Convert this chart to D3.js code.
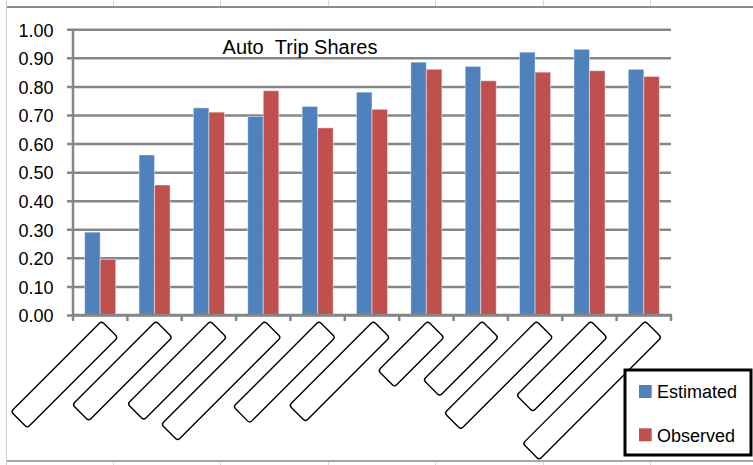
<!DOCTYPE html>
<html>
<head>
<meta charset="utf-8">
<script src="https://cdn.jsdelivr.net/npm/d3@7"></script>
<style>
  html, body { margin: 0; padding: 0; background: #ffffff; }
  svg { display: block; }
  text { font-family: "Liberation Sans", Arial, sans-serif; fill: #000; }
</style>
</head>
<body>
<svg id="chart" width="753" height="465"></svg>
<script>
// Category slots along the x axis (their label boxes are blank)
const categories = [1, 2, 3, 4, 5, 6, 7, 8, 9, 10, 11];
const seriesNames = ["Estimated", "Observed"];
const estimated = [0.29, 0.56, 0.725, 0.695, 0.73, 0.78, 0.885, 0.87, 0.92, 0.93, 0.86];
const observed  = [0.195, 0.455, 0.71, 0.785, 0.655, 0.72, 0.86, 0.82, 0.85, 0.855, 0.835];
const yTicks = [0, 0.1, 0.2, 0.3, 0.4, 0.5, 0.6, 0.7, 0.8, 0.9, 1.0];
const titleText = "Auto\u00a0\u00a0Trip Shares";

// lengths of the blank, rotated label boxes under each category
const labelBoxLengths = [128, 118, 117, 146, 121, 119, 70, 83, 130, 105, 173];

const colors = { Estimated: "#4F81BD", Observed: "#C0504D" };
const seriesValues = { Estimated: estimated, Observed: observed };

const svg = d3.select("#chart");
const W = 753, H = 465;

// spreadsheet cell lines peeking out above and below the chart object
const cellLinesX = [113, 220, 328, 435, 543, 650];
const bg = svg.append("g");
cellLinesX.forEach(x => {
  bg.append("line").attr("x1", x + 0.5).attr("x2", x + 0.5).attr("y1", 0).attr("y2", 7)
    .attr("stroke", "#d0d7e5").attr("stroke-width", 1);
  bg.append("line").attr("x1", x + 0.5).attr("x2", x + 0.5).attr("y1", 462).attr("y2", H)
    .attr("stroke", "#d0d7e5").attr("stroke-width", 1);
});
// chart object frame
bg.append("line").attr("x1", 6).attr("x2", W).attr("y1", 7).attr("y2", 7)
  .attr("stroke", "#8c8c8c").attr("stroke-width", 2);
bg.append("line").attr("x1", 6).attr("x2", W).attr("y1", 461).attr("y2", 461)
  .attr("stroke", "#a6a6a6").attr("stroke-width", 2);
bg.append("line").attr("x1", 6.5).attr("x2", 6.5).attr("y1", 0).attr("y2", H)
  .attr("stroke", "#c9d1de").attr("stroke-width", 1);

// plot area
const plot = { left: 73, right: 671, top: 29.3, bottom: 315 };

const x0 = d3.scaleBand().domain(categories).range([plot.left, plot.right]).paddingInner(0).paddingOuter(0);
const bw = x0.bandwidth();
// gap width of 150% of a bar: each bar = bw / 3.5
const x1 = d3.scaleBand().domain(seriesNames).range([bw * 0.75 / 3.5, bw - bw * 0.75 / 3.5]).padding(0);
const y = d3.scaleLinear().domain([0, 1]).range([plot.bottom, plot.top]);

const gridColor = "#868686";

// horizontal gridlines + y axis
const yAxis = d3.axisLeft(y).tickValues(yTicks).tickFormat(d3.format(".2f"))
  .tickSize(-(plot.right - plot.left)).tickSizeOuter(0).tickPadding(0);
const gy = svg.append("g").attr("transform", `translate(${plot.left},0)`).call(yAxis);
gy.select(".domain").remove();
gy.selectAll(".tick line").attr("stroke", gridColor).attr("stroke-width", 2.5)
  .attr("x1", -6);
gy.selectAll(".tick text").attr("x", -19.5).attr("dy", null).attr("y", 6.8)
  .attr("font-size", 18).attr("text-anchor", "end")
  .style("font-family", "'Liberation Sans', Arial, sans-serif").attr("fill", "#000");
svg.append("line").attr("x1", plot.left).attr("x2", plot.left)
  .attr("y1", plot.top).attr("y2", plot.bottom + 1)
  .attr("stroke", gridColor).attr("stroke-width", 2.5);

// bars
const groups = svg.append("g").selectAll("g").data(categories).join("g")
  .attr("transform", d => `translate(${x0(d)},0)`);
groups.selectAll("rect")
  .data((d, i) => seriesNames.map(s => ({ s, v: seriesValues[s][i] })))
  .join("rect")
  .attr("x", d => x1(d.s))
  .attr("width", x1.bandwidth())
  .attr("y", d => y(d.v))
  .attr("height", d => y(0) - y(d.v))
  .attr("fill", d => colors[d.s])
  .attr("stroke", "rgba(255,255,255,0.45)")
  .attr("stroke-width", 1);

// x axis line with ticks at category boundaries
const xAxisG = svg.append("g");
xAxisG.append("line").attr("x1", plot.left - 1).attr("x2", plot.right + 1)
  .attr("y1", plot.bottom).attr("y2", plot.bottom)
  .attr("stroke", gridColor).attr("stroke-width", 2.5);
const boundaries = categories.map(c => x0(c)).concat([x0(categories[categories.length - 1]) + bw]);
xAxisG.selectAll("line.tk").data(boundaries).join("line").attr("class", "tk")
  .attr("x1", d => d).attr("x2", d => d)
  .attr("y1", plot.bottom).attr("y2", plot.bottom + 6)
  .attr("stroke", gridColor).attr("stroke-width", 2.5);

// blank rotated category label boxes
const labels = svg.append("g").selectAll("g").data(categories).join("g")
  .attr("transform", d => `translate(${x0(d) + bw / 2 + 9.5},329.3) rotate(-45)`);
labels.append("rect")
  .attr("x", (d, i) => -labelBoxLengths[i])
  .attr("y", -11.5)
  .attr("width", (d, i) => labelBoxLengths[i])
  .attr("height", 23)
  .attr("rx", 3).attr("ry", 3)
  .attr("fill", "none")
  .attr("stroke", "#000")
  .attr("stroke-width", 1.4);

// title
svg.append("text").attr("x", 300).attr("y", 54)
  .attr("text-anchor", "middle").attr("font-size", 20)
  .text(titleText);

// legend
const lg = svg.append("g");
lg.append("rect").attr("x", 625).attr("y", 370).attr("width", 126).attr("height", 85)
  .attr("fill", "#fff").attr("stroke", "#000").attr("stroke-width", 3);
const legendRows = lg.selectAll("g").data(seriesNames).join("g")
  .attr("transform", (d, i) => `translate(639,${385 + i * 43.3})`);
legendRows.append("rect").attr("width", 12.7).attr("height", 13)
  .attr("fill", d => colors[d]);
legendRows.append("text").attr("x", 18).attr("y", 13.2)
  .attr("font-size", 18).text(d => d);
</script>
</body>
</html>
